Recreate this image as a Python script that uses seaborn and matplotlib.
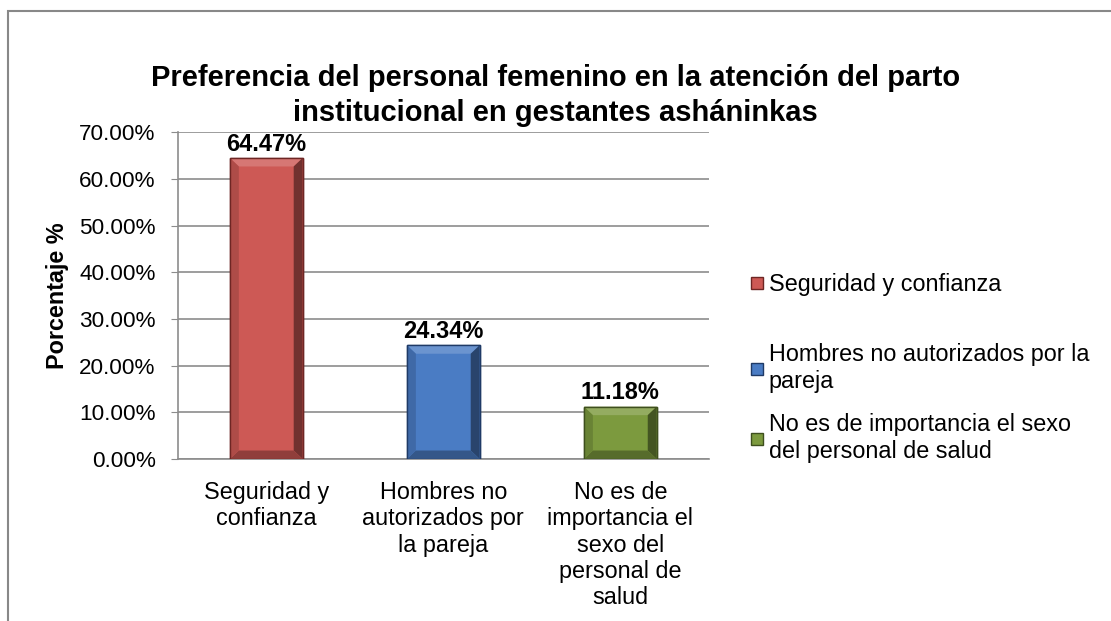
import pandas as pd
import matplotlib.pyplot as plt
import seaborn as sns
from matplotlib.patches import Rectangle, Polygon
from matplotlib.lines import Line2D
from matplotlib.colors import to_rgb

# Data
categories = ['Seguridad y confianza',
              'Hombres no autorizados por la pareja',
              'No es de importancia el sexo del personal de salud']
tick_labels = ['Seguridad y\nconfianza',
               'Hombres no\nautorizados por\nla pareja',
               'No es de\nimportancia el\nsexo del\npersonal de\nsalud']
legend_labels = ['Seguridad y confianza',
                 'Hombres no autorizados por la\npareja',
                 'No es de importancia el sexo\ndel personal de salud']
percentages = [64.47, 24.34, 11.18]
bar_colors = ['#CD5955', '#4A7CC4', '#7C9A3E']
edge_colors = ['#6E2624', '#1F3A66', '#3E4F1E']

df = pd.DataFrame({'categoria': categories, 'porcentaje': percentages})

sns.set_style('white')
plt.rcParams['font.family'] = ['Liberation Sans', 'DejaVu Sans']
plt.rcParams['text.color'] = 'black'
plt.rcParams['axes.labelcolor'] = 'black'
plt.rcParams['xtick.color'] = 'black'
plt.rcParams['ytick.color'] = 'black'

FS = 16.8


def shade(color, f):
    r, g, b = to_rgb(color)
    if f < 1:
        return (r * f, g * f, b * f)
    f = f - 1
    return (r + (1 - r) * f, g + (1 - g) * f, b + (1 - b) * f)


fig = plt.figure(figsize=(11.11, 6.21), dpi=100)
ax = fig.add_axes([0.160, 0.261, 0.478, 0.526])

sns.barplot(data=df, x='categoria', y='porcentaje', hue='categoria',
            palette=bar_colors, saturation=1, width=0.41, legend=False,
            ax=ax, zorder=3)

# bevel look: lighter top, darker sides/bottom, taken from each bar patch
bx, by = 0.05, 1.8
for patch, col, ec in zip(ax.patches, bar_colors, edge_colors):
    x0, y0 = patch.get_x(), patch.get_y()
    w, h = patch.get_width(), patch.get_height()
    x1, y1 = x0 + w, y0 + h
    patch.set_edgecolor(ec)
    patch.set_linewidth(1.0)
    bevels = [
        ([(x0, y1), (x1, y1), (x1 - bx, y1 - by), (x0 + bx, y1 - by)], shade(col, 1.18)),
        ([(x1, y1), (x1, y0), (x1 - bx, y0 + by), (x1 - bx, y1 - by)], shade(col, 0.55)),
        ([(x0, y0), (x1, y0), (x1 - bx, y0 + by), (x0 + bx, y0 + by)], shade(col, 0.7)),
        ([(x0, y0), (x0, y1), (x0 + bx, y1 - by), (x0 + bx, y0 + by)], shade(col, 0.85)),
    ]
    for pts, c in bevels:
        ax.add_patch(Polygon(pts, closed=True, facecolor=c, edgecolor='none', zorder=4))
    ax.add_patch(Rectangle((x0, y0), w, h, fill=False, edgecolor=ec,
                           linewidth=1.0, zorder=5))

for i, v in enumerate(percentages):
    ax.text(i, v + 0.5, f'{v:.2f}%', ha='center', va='bottom',
            fontsize=17, fontweight='bold', color='black')

ax.set_ylim(0, 70)
ax.set_yticks(range(0, 71, 10))
ax.set_yticklabels([f'{t:.2f}%' for t in range(0, 71, 10)], fontsize=16.2)
ax.set_xticks(range(len(categories)))
ax.set_xticklabels(tick_labels, fontsize=FS, linespacing=1.18, va='top')
ax.set_xlim(-0.5, 2.5)
ax.grid(axis='y', color='#8C8C8C', linewidth=1.2, zorder=0)
ax.set_axisbelow(True)

for side in ['top', 'right']:
    ax.spines[side].set_visible(False)
for side in ['left', 'bottom']:
    ax.spines[side].set_color('#8C8C8C')
    ax.spines[side].set_linewidth(1.2)
ax.tick_params(axis='y', which='both', left=True, length=5, color='#8C8C8C', pad=11)
ax.tick_params(axis='x', length=0, pad=16)

ax.set_xlabel('')
ax.set_ylabel('Porcentaje %', fontsize=FS, fontweight='bold')
ax.yaxis.set_label_coords(-0.205, 0.5)

fig.text(0.5, 0.846, 'Preferencia del personal femenino en la atención del parto\n'
         'institucional en gestantes asháninkas',
         ha='center', va='center', fontsize=21, fontweight='bold', linespacing=1.3)

# legend, one entry per block so the spacing follows the source
legend_tops = [0.560, 0.448, 0.335]
for col, ec, lab, top in zip(bar_colors, edge_colors, legend_labels, legend_tops):
    h = Line2D([0], [0], marker='s', linestyle='', markersize=8.5,
               markerfacecolor=col, markeredgecolor=ec)
    leg = fig.legend([h], [lab], loc='upper left', bbox_to_anchor=(0.674, top),
                     frameon=False, fontsize=FS, handletextpad=0.15,
                     handlelength=0.7, borderpad=0, borderaxespad=0)
    for t in leg.get_texts():
        t.set_linespacing(1.25)

# outer chart border (clipped at right and bottom like the source)
fig.patches.append(Rectangle((0.007, -0.05), 1.1, 1.032,
                             transform=fig.transFigure, fill=False,
                             edgecolor='#888888', linewidth=1.5))

fig.savefig('out.png', dpi=100)
